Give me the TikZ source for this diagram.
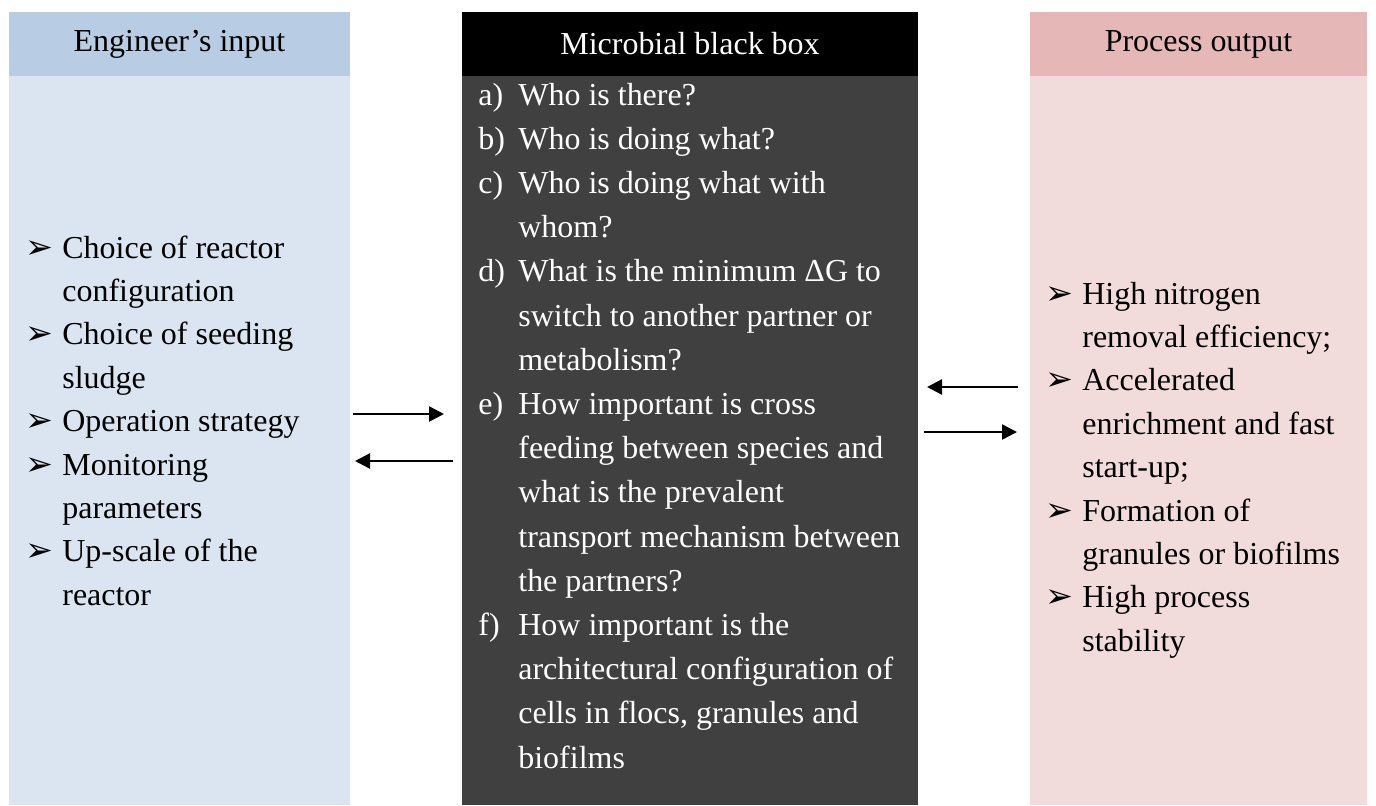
\documentclass[tikz,border=0pt]{standalone}
\usepackage{fontspec}
\setmainfont{Liberation Serif}
\newfontfamily\dingfont{DejaVu Sans}
\usetikzlibrary{arrows.meta}
\definecolor{inhead}{HTML}{B8CCE4}
\definecolor{inbody}{HTML}{DBE5F1}
\definecolor{boxhead}{HTML}{000000}
\definecolor{boxbody}{HTML}{404040}
\definecolor{outhead}{HTML}{E5B8B7}
\definecolor{outbody}{HTML}{F2DBDB}
\tikzset{
  headtx/.style={inner sep=0, font=\fontsize{18.2}{22}\selectfont},
  linetx/.style={anchor=base west, inner sep=0, font=\fontsize{18.2}{22}\selectfont},
  arrowbul/.style={anchor=base west, inner sep=0, font=\dingfont\fontsize{19}{22}\selectfont},
  flow/.style={-{Triangle[length=0.3cm, width=0.3cm]}, line width=1.4pt},
}

\begin{document}
\begin{tikzpicture}
  \useasboundingbox (0,0) rectangle (27.52,-16.10);

  % --- column bands ---
  \fill[inhead]  (0.18,-0.24)  rectangle (7.00,-1.52);
  \fill[inbody]  (0.18,-1.52)  rectangle (7.00,-16.10);
  \fill[boxhead] (9.24,-0.24)  rectangle (18.36,-1.52);
  \fill[boxbody] (9.24,-1.52)  rectangle (18.36,-16.10);
  \fill[outhead] (20.60,-0.24) rectangle (27.34,-1.52);
  \fill[outbody] (20.60,-1.52) rectangle (27.34,-16.10);

  % --- headings ---
  \node[headtx]              (inhd)  at (3.59,-0.88)  {Engineer's input};
  \node[headtx, text=white]  (boxhd) at (13.80,-0.88) {Microbial black box};
  \node[headtx]              (outhd) at (23.97,-0.88) {Process output};

  % --- engineer's input ---
  \foreach \b/\t [count=\i from 0] in {1/Choice of reactor, 0/configuration,
      1/Choice of seeding, 0/sludge, 1/Operation strategy, 1/Monitoring,
      0/parameters, 1/Up-scale of the, 0/reactor} {
    \node[linetx] (in\i) at (1.24,-5.16-0.868*\i) {\t};
    \ifnum\b=1 \node[arrowbul] (inb\i) at (0.50,-5.16-0.868*\i) {➢};\fi
  }

  % --- microbial black box ---
  \foreach \l/\t [count=\i from 0] in {a)/Who is there?, b)/Who is doing what?,
      c)/Who is doing what with, /whom?, d)/What is the minimum ΔG to,
      /switch to another partner or, /metabolism?, e)/How important is cross,
      /feeding between species and, /what is the prevalent,
      /transport mechanism between, /the partners?, f)/How important is the,
      /architectural configuration of, /{cells in flocs, granules and}, /biofilms} {
    \node[linetx, text=white] (box\i) at (10.36,-2.10-0.884*\i) {\t};
    \ifx\l\empty\else
      \node[linetx, text=white] (boxl\i) at (9.56,-2.10-0.884*\i) {\l};
    \fi
  }

  % --- process output ---
  \foreach \b/\t [count=\i from 0] in {1/High nitrogen, 0/removal efficiency;,
      1/Accelerated, 0/enrichment and fast, 0/start-up;, 1/Formation of,
      0/granules or biofilms, 1/High process, 0/stability} {
    \node[linetx] (out\i) at (21.64,-6.08-0.868*\i) {\t};
    \ifnum\b=1 \node[arrowbul] (outb\i) at (20.90,-6.08-0.868*\i) {➢};\fi
  }

  % --- exchange arrows ---
  \coordinate (inR)   at (7.00,-8.28);
  \coordinate (boxL)  at (9.24,-8.28);
  \coordinate (inR2)  at (7.00,-9.22);
  \coordinate (boxL2) at (9.24,-9.22);
  \coordinate (boxR)  at (18.36,-7.74);
  \coordinate (outL)  at (20.60,-7.74);
  \coordinate (boxR2) at (18.36,-8.64);
  \coordinate (outL2) at (20.60,-8.64);
  \draw[flow, shorten <=0.06cm, shorten >=0.36cm] (inR) -- (boxL);
  \draw[flow, shorten <=0.18cm, shorten >=0.10cm] (boxL2) -- (inR2);
  \draw[flow, shorten <=0.24cm, shorten >=0.18cm] (outL) -- (boxR);
  \draw[flow, shorten <=0.12cm, shorten >=0.26cm] (boxR2) -- (outL2);
\end{tikzpicture}
\end{document}
